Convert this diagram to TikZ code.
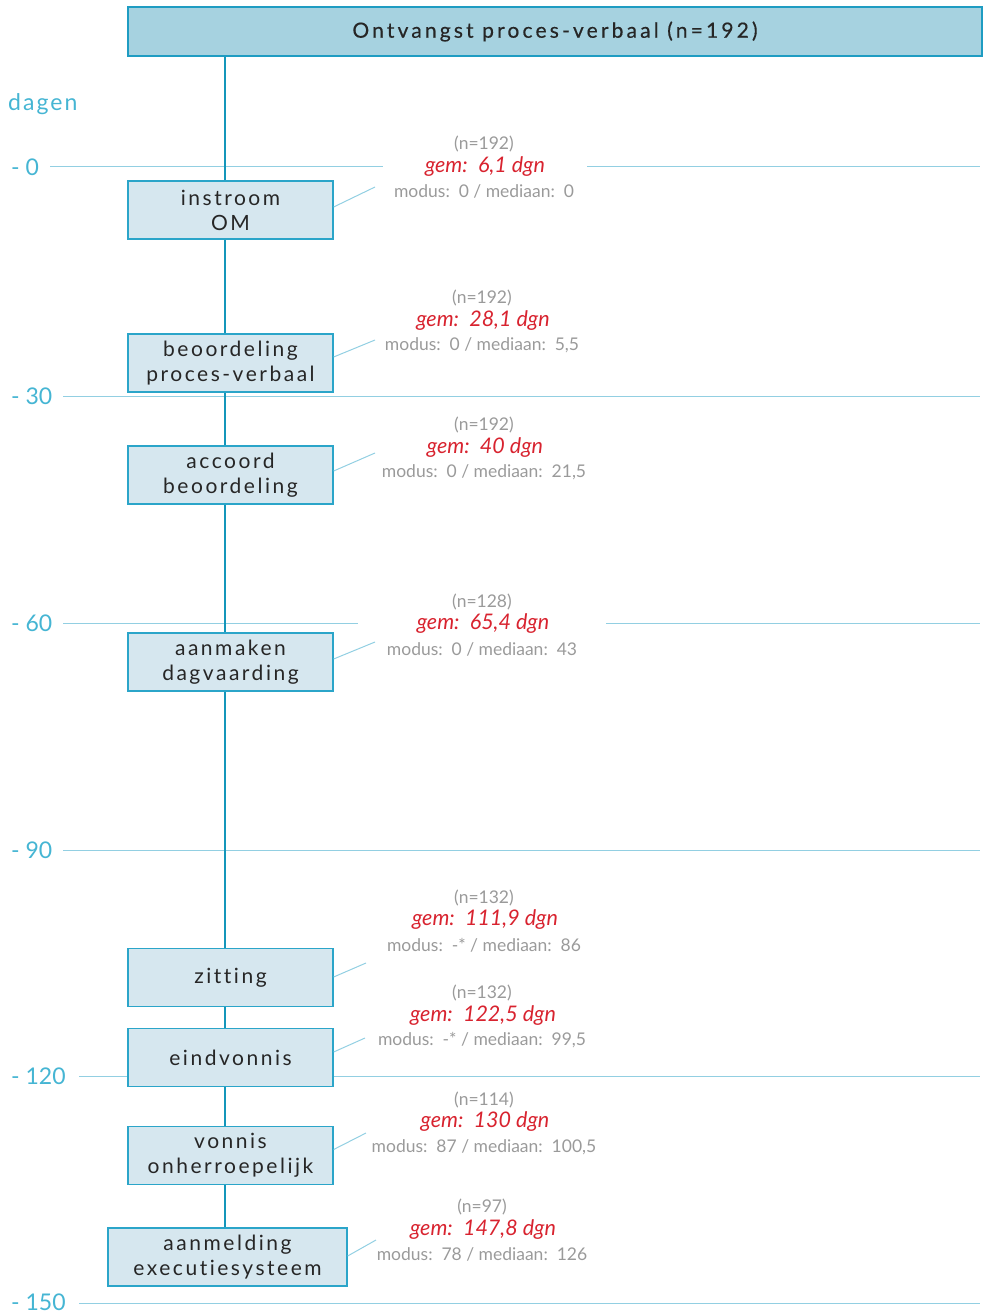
\documentclass[tikz,border=0pt]{standalone}
\usepackage{fontspec}
\setmainfont[Ligatures=NoCommon]{Lato}
\newfontfamily\boxfont[LetterSpace=12,Ligatures=NoCommon]{Lato}
\newfontfamily\hdrfont[LetterSpace=15,Ligatures=NoCommon,FakeBold=0.4]{Lato}
\newfontfamily\axfont[Ligatures=NoCommon]{Lato}
\newfontfamily\dagfont[LetterSpace=9,Ligatures=NoCommon]{Lato}
\definecolor{hdrfill}{HTML}{A6D2E0}
\definecolor{hdrline}{HTML}{1E9CC2}
\definecolor{vline}{HTML}{1496BA}
\definecolor{boxfill}{HTML}{D6E7EF}
\definecolor{boxline}{HTML}{2BA5C9}
\definecolor{grid}{HTML}{92CFE2}
\definecolor{axis}{HTML}{45B5D3}
\definecolor{graytxt}{HTML}{9A9A9A}
\definecolor{redtxt}{HTML}{D8232F}
\begin{document}
\begin{tikzpicture}[x=1pt,y=-1pt,
  stepbox/.style={draw=boxline,line width=1.3pt,fill=boxfill,minimum width=205pt,minimum height=58pt,inner sep=0pt,align=center,font=\boxfont\fontsize{21}{25}\selectfont,text=black!85},
  gridline/.style={draw=grid,line width=1pt},
  leader/.style={draw=grid,line width=1pt},
  axlab/.style={anchor=west,text=axis,font=\axfont\fontsize{23}{23}\selectfont,inner sep=0pt},
  ntxt/.style={text=graytxt,font=\fontsize{17.5}{17.5}\selectfont,inner sep=0pt},
  gtxt/.style={text=redtxt,font=\itshape\fontsize{21.5}{21.5}\selectfont,inner sep=0pt},
  mtxt/.style={text=graytxt,font=\fontsize{17.5}{17.5}\selectfont,inner sep=0pt},
  spine/.style={draw=vline,line width=2.6pt}]
\useasboundingbox (0,0) rectangle (982,1313);
% grid lines
\node[axlab] (t0) at (11,167.5) {- 0};
\node[axlab] (t30) at (11,396.5) {- 30};
\node[axlab] (t60) at (11,623.5) {- 60};
\node[axlab] (t90) at (11,850.5) {- 90};
\node[axlab] (t120) at (11,1076.5) {- 120};
\node[axlab] (t150) at (11,1302) {- 150};
\node[anchor=west,text=axis,font=\dagfont\fontsize{23}{23}\selectfont,inner sep=0pt] (dagen) at (8,104.5) {dagen};
\draw[gridline] (50,167) -- (383,167);
\draw[gridline] (587,167) -- (980,167);
\draw[gridline] (63,396) -- (980,396);
\draw[gridline] (63,623) -- (358,623);
\draw[gridline] (606,623) -- (980,623);
\draw[gridline] (63,850) -- (980,850);
\draw[gridline] (79,1076) -- (980,1076);
\draw[gridline] (79,1303) -- (980,1303);
% header
\node[draw=hdrline,line width=1.3pt,fill=hdrfill,minimum width=854pt,minimum height=49pt,inner sep=0pt,font=\hdrfont\fontsize{21}{21}\selectfont,text=black!85] (hdr) at (555,31.5) {Ontvangst proces-verbaal (n=192)};
% boxes
\node[stepbox] (b1) at (230.5,210) {instroom\\OM};
\node[stepbox] (b2) at (230.5,363) {beoordeling\\proces-verbaal};
\node[stepbox] (b3) at (230.5,475) {accoord\\beoordeling};
\node[stepbox] (b4) at (230.5,662) {aanmaken\\dagvaarding};
\node[stepbox] (b5) at (230.5,977.5) {zitting};
\node[stepbox] (b6) at (230.5,1057.5) {eindvonnis};
\node[stepbox] (b7) at (230.5,1155.5) {vonnis\\onherroepelijk};
\node[stepbox,minimum width=239pt] (b8) at (227.5,1257) {aanmelding\\executiesysteem};
% spine
\coordinate (vx) at (225,0);
\draw[spine] (vx |- hdr.south) -- (vx |- b1.north);
\draw[spine] (vx |- b1.south) -- (vx |- b2.north);
\draw[spine] (vx |- b2.south) -- (vx |- b3.north);
\draw[spine] (vx |- b3.south) -- (vx |- b4.north);
\draw[spine] (vx |- b4.south) -- (vx |- b5.north);
\draw[spine] (vx |- b5.south) -- (vx |- b6.north);
\draw[spine] (vx |- b6.south) -- (vx |- b7.north);
\draw[spine] (vx |- b7.south) -- (vx |- b8.north);
% statistics
\node[ntxt] (n1) at (484,143.5) {(n=192)};
\node[gtxt] (g1) at (485,167) {gem:\, 6,1 dgn};
\node[mtxt] (m1) at (484,191.5) {modus:\, 0 / mediaan:\, 0};
\node[ntxt] (n2) at (482,297.5) {(n=192)};
\node[gtxt] (g2) at (483,321) {gem:\, 28,1 dgn};
\node[mtxt] (m2) at (482,345.5) {modus:\, 0 / mediaan:\, 5,5};
\node[ntxt] (n3) at (484,424.5) {(n=192)};
\node[gtxt] (g3) at (485,448) {gem:\, 40 dgn};
\node[mtxt] (m3) at (484,472.5) {modus:\, 0 / mediaan:\, 21,5};
\node[ntxt] (n4) at (482,601.5) {(n=128)};
\node[gtxt] (g4) at (483,624) {gem:\, 65,4 dgn};
\node[mtxt] (m4) at (482,649.5) {modus:\, 0 / mediaan:\, 43};
\node[ntxt] (n5) at (484,897.5) {(n=132)};
\node[gtxt] (g5) at (485,920) {gem:\, 111,9 dgn};
\node[mtxt] (m5) at (484,945.5) {modus:\, -* / mediaan:\, 86};
\node[ntxt] (n6) at (482,992.5) {(n=132)};
\node[gtxt] (g6) at (483,1016) {gem:\, 122,5 dgn};
\node[mtxt] (m6) at (482,1040.5) {modus:\, -* / mediaan:\, 99,5};
\node[ntxt] (n7) at (484,1099.5) {(n=114)};
\node[gtxt] (g7) at (485,1122) {gem:\, 130 dgn};
\node[mtxt] (m7) at (484,1147.5) {modus:\, 87 / mediaan:\, 100,5};
\node[ntxt] (n8) at (482,1206.5) {(n=97)};
\node[gtxt] (g8) at (483,1230) {gem:\, 147,8 dgn};
\node[mtxt] (m8) at (482,1254.5) {modus:\, 78 / mediaan:\, 126};
% leaders
\coordinate (l1) at (375,187);
\coordinate (l2) at (375,340);
\coordinate (l3) at (375,453);
\coordinate (l4) at (375,642);
\coordinate (l5) at (366,963);
\coordinate (l6) at (365,1038);
\coordinate (l7) at (366,1133);
\coordinate (l8) at (376,1240);
\draw[leader] (b1.east) ++(0,-3) -- (l1);
\draw[leader] (b2.east) ++(0,-6) -- (l2);
\draw[leader] (b3.east) ++(0,-4) -- (l3);
\draw[leader] (b4.east) ++(0,-3) -- (l4);
\draw[leader] (b5.east) ++(0,-0.5) -- (l5);
\draw[leader] (b6.east) ++(0,-5.5) -- (l6);
\draw[leader] (b7.east) ++(0,-6) -- (l7);
\draw[leader] (b8.east) ++(0,-1) -- (l8);
\end{tikzpicture}
\end{document}
